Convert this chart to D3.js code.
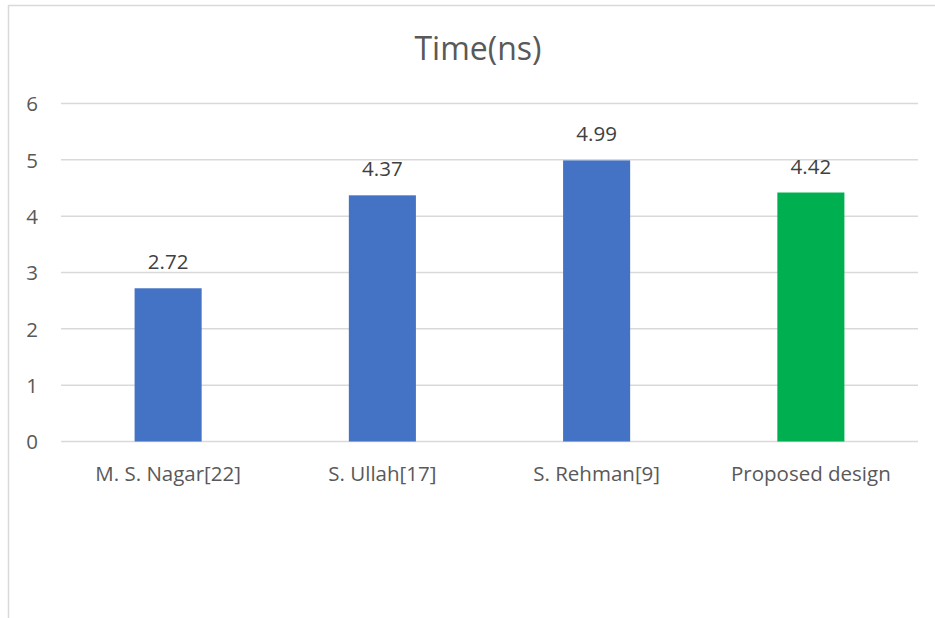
<!DOCTYPE html>
<html>
<head>
<meta charset="utf-8">
<script src="https://cdn.jsdelivr.net/npm/d3@7"></script>
<style>
  html, body { margin: 0; padding: 0; background: #fff; }
  svg { display: block; font-family: "Open Sans", "Noto Sans", sans-serif; }
</style>
</head>
<body>
<svg id="chart" width="935" height="618"></svg>
<script>
const categories = ["M. S. Nagar[22]", "S. Ullah[17]", "S. Rehman[9]", "Proposed design"];
const values = [2.72, 4.37, 4.99, 4.42];
const barColors = ["#4472C4", "#4472C4", "#4472C4", "#00B050"];
const yTicks = [0, 1, 2, 3, 4, 5, 6];
const title = "Time(ns)";

const svg = d3.select("#chart");

// outer frame
svg.append("path")
  .attr("d", "M8.5,618 L8.5,5.5 L935,5.5")
  .attr("fill", "none")
  .attr("stroke", "#D9D9D9")
  .attr("stroke-width", 1.5);

const x = d3.scaleBand()
  .domain(categories)
  .range([61, 918])
  .paddingInner(0.687)
  .paddingOuter(0.3435);

const y = d3.scaleLinear().domain([0, 6]).range([441.5, 103.5]);

// gridlines
svg.append("g")
  .selectAll("line")
  .data(yTicks)
  .join("line")
  .attr("x1", 61).attr("x2", 918)
  .attr("y1", d => y(d)).attr("y2", d => y(d))
  .attr("stroke", "#D9D9D9")
  .attr("stroke-width", 1.5);

// y axis labels
const yAxis = d3.axisLeft(y).tickValues(yTicks).tickSize(0).tickPadding(0).tickFormat(d3.format("d"));
const yg = svg.append("g").attr("transform", "translate(38,0)").call(yAxis)
  .attr("font-family", null).attr("font-size", null);
yg.select(".domain").remove();
yg.selectAll("text")
  .attr("fill", "#595959")
  .style("font-size", "20.5px")
  .attr("dy", "0.35em");

// bars
svg.append("g")
  .selectAll("rect")
  .data(values)
  .join("rect")
  .attr("x", (d, i) => x(categories[i]))
  .attr("width", x.bandwidth())
  .attr("y", d => y(d))
  .attr("height", d => y(0) - y(d))
  .attr("fill", (d, i) => barColors[i]);

// data labels
svg.append("g")
  .selectAll("text")
  .data(values)
  .join("text")
  .attr("x", (d, i) => x(categories[i]) + x.bandwidth() / 2)
  .attr("y", d => y(d) - 19)
  .attr("text-anchor", "middle")
  .attr("fill", "#404040")
  .style("font-size", "20.5px")
  .text(d => d3.format(".2f")(d));

// x axis labels
const xAxis = d3.axisBottom(x).tickSize(0).tickPadding(0);
const xg = svg.append("g").attr("transform", "translate(0,441.5)").call(xAxis)
  .attr("font-family", null).attr("font-size", null);
xg.select(".domain").remove();
xg.selectAll("text")
  .attr("fill", "#595959")
  .style("font-size", "20.5px")
  .attr("dy", null)
  .attr("y", 39);

// title
svg.append("text")
  .attr("x", 478)
  .attr("y", 60)
  .attr("text-anchor", "middle")
  .attr("fill", "#595959")
  .style("font-size", "32px")
  .text(title);
</script>
</body>
</html>
